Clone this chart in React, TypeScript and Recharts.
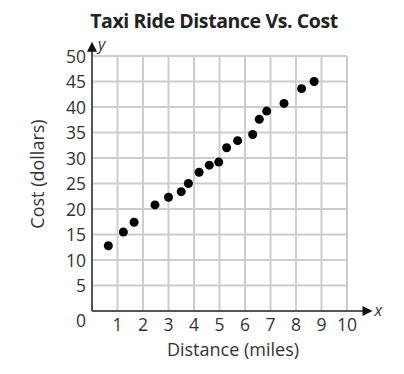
import { CartesianGrid, ReferenceDot, ReferenceLine, Scatter, ScatterChart, XAxis, YAxis } from "recharts";

const distance = [0.64, 1.23, 1.65, 2.47, 3.0, 3.5, 3.78, 4.2, 4.6, 4.97, 5.28, 5.71, 6.3, 6.56, 6.85, 7.53, 8.22, 8.71];
const cost = [12.8, 15.5, 17.4, 20.8, 22.3, 23.4, 25.0, 27.2, 28.6, 29.2, 32.0, 33.4, 34.6, 37.6, 39.2, 40.7, 43.6, 45.0];
const xTicks = [0, 1, 2, 3, 4, 5, 6, 7, 8, 9, 10];
const yTicks = [0, 5, 10, 15, 20, 25, 30, 35, 40, 45, 50];

const rides = distance.map((d, i) => ({ d, c: cost[i] }));

const FONT = "'Open Sans', sans-serif";
const AXIS = "#555";
const TEXT = "#333";

function XTick({ x, y, payload }: any) {
  if (payload.value === 0) return null;
  return (
    <text x={x} y={y} dy={16} textAnchor="middle" fontFamily={FONT} fontSize={17.5} fill={TEXT}>
      {payload.value}
    </text>
  );
}

function YTick({ x, y, payload }: any) {
  const extra = payload.value === 0 ? 9 : 0;
  return (
    <text x={x} y={y + extra} dy={6.5} textAnchor="end" fontFamily={FONT} fontSize={17.5} fill={TEXT}>
      {payload.value}
    </text>
  );
}

const yArrow = ({ cx, cy }: any) => (
  <g>
    <path d={`M${cx},${cy} L${cx - 5},${cy + 10} L${cx + 5},${cy + 10} Z`} fill="#111" />
    <text x={cx + 6} y={cy + 8} fontFamily={FONT} fontStyle="italic" fontSize={16} fill={TEXT}>
      y
    </text>
  </g>
);

const xArrow = ({ cx, cy }: any) => (
  <g>
    <path d={`M${cx},${cy} L${cx - 10},${cy - 5} L${cx - 10},${cy + 5} Z`} fill="#111" />
    <text x={cx + 2} y={cy + 5} fontFamily={FONT} fontStyle="italic" fontSize={16} fill={TEXT}>
      x
    </text>
  </g>
);

export default function App() {
  return (
    <div style={{ position: "absolute", left: 0, top: 0, width: 404, height: 374, background: "#fff" }}>
      <div
        style={{
          position: "absolute",
          top: 7,
          left: 0,
          width: 428,
          textAlign: "center",
          fontFamily: FONT,
          fontWeight: 700,
          fontSize: 19.5,
          letterSpacing: -0.4,
          color: "#222",
        }}
      >
        Taxi Ride Distance Vs. Cost
      </div>
      <ScatterChart width={404} height={374} margin={{ top: 56, right: 57, left: 52, bottom: 33 }}>
        <CartesianGrid stroke="#cdcdcd" strokeWidth={2} />
        <XAxis
          type="number"
          dataKey="d"
          domain={[0, 10]}
          ticks={xTicks}
          interval={0}
          height={30}
          tickSize={0}
          tickMargin={4}
          axisLine={{ stroke: AXIS, strokeWidth: 2 }}
          tickLine={false}
          tick={<XTick />}
          label={{
            content: () => (
              <text x={233} y={356} textAnchor="middle" fontFamily={FONT} fontSize={18} fill={TEXT}>
                Distance (miles)
              </text>
            ),
          }}
        />
        <YAxis
          type="number"
          dataKey="c"
          domain={[0, 50]}
          ticks={yTicks}
          interval={0}
          width={40}
          tickSize={0}
          tickMargin={6}
          axisLine={{ stroke: AXIS, strokeWidth: 2 }}
          tickLine={false}
          tick={<YTick />}
          label={{
            content: () => (
              <text
                x={44}
                y={174}
                transform="rotate(-90 44 174)"
                textAnchor="middle"
                fontFamily={FONT}
                fontSize={18}
                fill={TEXT}
              >
                Cost (dollars)
              </text>
            ),
          }}
        />
        <ReferenceLine
          segment={[
            { x: 0, y: 50 },
            { x: 0, y: 51.5 },
          ]}
          stroke={AXIS}
          strokeWidth={2}
          ifOverflow="visible"
        />
        <ReferenceLine
          segment={[
            { x: 10, y: 0 },
            { x: 10.7, y: 0 },
          ]}
          stroke={AXIS}
          strokeWidth={2}
          ifOverflow="visible"
        />
        <ReferenceDot x={0} y={52.8} ifOverflow="visible" shape={yArrow} />
        <ReferenceDot x={11.0} y={0} ifOverflow="visible" shape={xArrow} />
        <Scatter data={rides} fill="#000" isAnimationActive={false} shape={(p: any) => <circle cx={p.cx} cy={p.cy} r={4.5} fill="#000" />} />
      </ScatterChart>
    </div>
  );
}
